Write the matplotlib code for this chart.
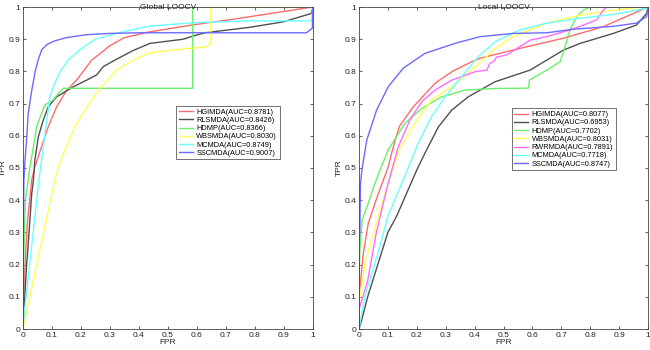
import matplotlib
matplotlib.use("Agg")
import matplotlib.pyplot as plt

plt.rcParams['font.family'] = ['Liberation Sans', 'DejaVu Sans']

# ---- Global LOOCV (fpr, tpr) ----
g_hgimda_fpr = [0, 0.004, 0.015, 0.03, 0.041, 0.064, 0.087, 0.116, 0.151, 0.185, 0.237, 0.30, 0.35, 0.438, 0.59, 0.725, 1.0]
g_hgimda_tpr = [0, 0.15, 0.33, 0.463, 0.504, 0.566, 0.628, 0.69, 0.742, 0.773, 0.835, 0.88, 0.905, 0.923, 0.945, 0.962, 1.0]
g_rlsmda_fpr = [0, 0.001, 0.013, 0.015, 0.03, 0.036, 0.041, 0.053, 0.07, 0.087, 0.116, 0.173, 0.22, 0.254, 0.277, 0.317,
                0.38, 0.438, 0.553, 0.587, 0.628, 0.783, 0.898, 0.995, 1.0]
g_rlsmda_tpr = [0, 0.02, 0.209, 0.225, 0.42, 0.463, 0.525, 0.597, 0.649, 0.69, 0.721, 0.752, 0.773, 0.789, 0.815, 0.835,
                0.865, 0.887, 0.9, 0.91, 0.92, 0.937, 0.954, 0.98, 1.0]
g_hdmp_fpr = [0, 0.002, 0.008, 0.018, 0.024, 0.036, 0.047, 0.064, 0.076, 0.104, 0.125, 0.139, 0.585, 0.585, 1.0]
g_hdmp_tpr = [0, 0.2, 0.4, 0.463, 0.504, 0.566, 0.628, 0.67, 0.696, 0.711, 0.735, 0.7475, 0.7475, 1.0, 1.0]
g_wbsmda_fpr = [0, 0.11, 0.122, 0.145, 0.179, 0.22, 0.266, 0.323, 0.38, 0.438, 0.553, 0.632, 0.648, 0.648, 1.0]
g_wbsmda_tpr = [0, 0.463, 0.504, 0.556, 0.628, 0.69, 0.747, 0.804, 0.835, 0.858, 0.87, 0.876, 0.887, 1.0, 1.0]
g_mcmda_fpr = [0, 0.003, 0.055, 0.061, 0.07, 0.082, 0.093, 0.104, 0.128, 0.156, 0.20, 0.25, 0.33, 0.438, 0.585, 0.783, 0.995, 1.0]
g_mcmda_tpr = [0, 0.038, 0.463, 0.504, 0.566, 0.649, 0.721, 0.752, 0.799, 0.835, 0.87, 0.9, 0.92, 0.941, 0.951, 0.957, 0.957, 1.0]
g_sscmda_fpr = [0, 0.001, 0.003, 0.007, 0.013, 0.018, 0.03, 0.042, 0.052, 0.065, 0.085, 0.11, 0.15, 0.22, 0.3, 0.4, 0.978, 0.998, 1.0]
g_sscmda_tpr = [0, 0.3, 0.463, 0.525, 0.597, 0.67, 0.74, 0.8, 0.835, 0.868, 0.885, 0.895, 0.905, 0.914, 0.918, 0.92, 0.92, 0.934, 1.0]

# ---- Local LOOCV (fpr, tpr) ----
l_hgimda_fpr = [0, 0, 0.015, 0.032, 0.067, 0.10, 0.12, 0.14, 0.188, 0.263, 0.321, 0.39, 0.419, 0.55, 0.707, 0.845, 1.0]
l_hgimda_tpr = [0, 0.1, 0.235, 0.328, 0.421, 0.5, 0.57, 0.63, 0.69, 0.763, 0.799, 0.83, 0.841, 0.87, 0.903, 0.939, 1.0]
l_rlsmda_fpr = [0, 0.01, 0.03, 0.1, 0.13, 0.2, 0.228, 0.275, 0.321, 0.378, 0.419, 0.471, 0.592, 0.707, 0.765, 0.88, 0.96, 0.995, 1.0]
l_rlsmda_tpr = [0, 0.03, 0.1, 0.3, 0.35, 0.494, 0.546, 0.628, 0.68, 0.721, 0.742, 0.768, 0.804, 0.866, 0.887, 0.918, 0.944, 0.98, 1.0]
l_hdmp_fpr = [0, 0, 0.003, 0.011, 0.032, 0.055, 0.073, 0.101, 0.159, 0.217, 0.286, 0.367, 0.471, 0.586, 0.59, 0.65, 0.696,
              0.713, 0.73, 0.753, 0.776, 0.80, 1.0]
l_hdmp_tpr = [0, 0.15, 0.245, 0.339, 0.39, 0.452, 0.494, 0.556, 0.639, 0.685, 0.721, 0.742, 0.747, 0.748, 0.773, 0.804, 0.83,
              0.877, 0.929, 0.97, 0.99, 1.0, 1.0]
l_wbsmda_fpr = [0, 0, 0.02, 0.05, 0.1, 0.142, 0.2, 0.251, 0.321, 0.39, 0.471, 0.534, 0.65, 0.765, 0.88, 0.98, 1.0]
l_wbsmda_tpr = [0, 0.08, 0.2, 0.3, 0.45, 0.561, 0.649, 0.711, 0.752, 0.804, 0.871, 0.908, 0.95, 0.975, 0.99, 1.0, 1.0]
l_rwrmda_fpr = [0, 0, 0.03, 0.06, 0.1, 0.136, 0.176, 0.217, 0.263, 0.321, 0.401, 0.442, 0.453, 0.465, 0.477, 0.511, 0.592,
                0.65, 0.73, 0.765, 0.822, 0.845, 0.857, 1.0]
l_rwrmda_tpr = [0, 0.06, 0.15, 0.3, 0.45, 0.566, 0.649, 0.706, 0.742, 0.773, 0.799, 0.804, 0.825, 0.83, 0.845, 0.851, 0.897,
                0.908, 0.929, 0.94, 0.96, 0.99, 1.0, 1.0]
l_mcmda_fpr = [0, 0.02, 0.07, 0.1, 0.153, 0.205, 0.251, 0.298, 0.355, 0.413, 0.471, 0.557, 0.65, 0.765, 0.88, 0.995, 1.0]
l_mcmda_tpr = [0, 0.1, 0.25, 0.35, 0.463, 0.577, 0.659, 0.721, 0.784, 0.846, 0.892, 0.929, 0.95, 0.965, 0.977, 0.996, 1.0]
l_sscmda_fpr = [0, 0, 0.003, 0.005, 0.01, 0.027, 0.061, 0.101, 0.153, 0.228, 0.332, 0.419, 0.534, 0.65, 0.742, 0.88, 0.96,
                0.995, 1.0]
l_sscmda_tpr = [0, 0.27, 0.3, 0.45, 0.494, 0.587, 0.68, 0.752, 0.81, 0.856, 0.887, 0.908, 0.918, 0.92, 0.931, 0.94, 0.95,
                0.97, 1.0]

global_labels = ['HGIMDA(AUC=0.8781)', 'RLSMDA(AUC=0.8426)', 'HDMP(AUC=0.8366)',
                 'WBSMDA(AUC=0.8030)', 'MCMDA(AUC=0.8749)', 'SSCMDA(AUC=0.9007)']
local_labels = ['HGIMDA(AUC=0.8077)', 'RLSMDA(AUC=0.6953)', 'HDMP(AUC=0.7702)',
                'WBSMDA(AUC=0.8031)', 'RWRMDA(AUC=0.7891)', 'MCMDA(AUC=0.7718)',
                'SSCMDA(AUC=0.8747)']

colors = {'HGIMDA': '#ff6b6b', 'RLSMDA': '#505050', 'HDMP': '#6bef6b', 'WBSMDA': '#ffff55',
          'RWRMDA': '#ff6bff', 'MCMDA': '#6bffff', 'SSCMDA': '#6b6bff'}

global_curves = [(g_hgimda_fpr, g_hgimda_tpr), (g_rlsmda_fpr, g_rlsmda_tpr), (g_hdmp_fpr, g_hdmp_tpr),
                 (g_wbsmda_fpr, g_wbsmda_tpr), (g_mcmda_fpr, g_mcmda_tpr), (g_sscmda_fpr, g_sscmda_tpr)]
local_curves = [(l_hgimda_fpr, l_hgimda_tpr), (l_rlsmda_fpr, l_rlsmda_tpr), (l_hdmp_fpr, l_hdmp_tpr),
                (l_wbsmda_fpr, l_wbsmda_tpr), (l_rwrmda_fpr, l_rwrmda_tpr), (l_mcmda_fpr, l_mcmda_tpr),
                (l_sscmda_fpr, l_sscmda_tpr)]

ticks = [0, 0.1, 0.2, 0.3, 0.4, 0.5, 0.6, 0.7, 0.8, 0.9, 1]
tick_labels = ['0', '0.1', '0.2', '0.3', '0.4', '0.5', '0.6', '0.7', '0.8', '0.9', '1']

fig = plt.figure(figsize=(6.5, 3.5), dpi=100)
ax1 = fig.add_axes([0.0354, 0.06, 0.446, 0.92])
ax2 = fig.add_axes([0.5523, 0.06, 0.4447, 0.92])


def draw_panel(ax, curves, labels, title, legend_box):
    for (x, y), lab in zip(curves, labels):
        name = lab.split('(')[0]
        ax.plot(x, y, color=colors[name], lw=1, label=lab)
    ax.set_xlim(0, 1)
    ax.set_ylim(0, 1)
    ax.set_xticks(ticks)
    ax.set_xticklabels(tick_labels)
    ax.set_yticks(ticks)
    ax.set_yticklabels(tick_labels)
    ax.tick_params(direction='in', length=2.5, width=0.5, labelsize=6, pad=2,
                   top=True, right=True, colors='#222222')
    for sp in ax.spines.values():
        sp.set_linewidth(0.6)
        sp.set_color('#444444')
    ax.set_title(title, fontsize=6, pad=0, color='#222222', y=0.995)
    ax.set_xlabel('FPR', fontsize=6, labelpad=0, color='#222222')
    ax.set_ylabel('TPR', fontsize=6, labelpad=1, color='#222222')
    leg = ax.legend(loc='upper left', bbox_to_anchor=legend_box, fontsize=5.3,
                    frameon=True, fancybox=False, handlelength=1.9, handletextpad=0.5,
                    borderpad=0.35, labelspacing=0.15, borderaxespad=0)
    leg.get_frame().set_edgecolor('#333333')
    leg.get_frame().set_linewidth(0.6)


draw_panel(ax1, global_curves, global_labels, 'Global LOOCV', (0.528, 0.693))
draw_panel(ax2, local_curves, local_labels, 'Local LOOCV', (0.528, 0.685))

fig.savefig('out.png', dpi=100)
